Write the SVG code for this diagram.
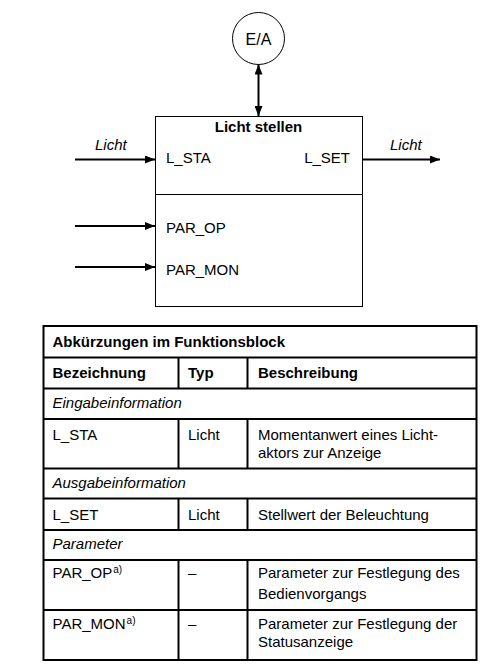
<svg xmlns="http://www.w3.org/2000/svg" width="483" height="665" viewBox="0 0 483 665">
<defs>
<style>
text{font-family:"Liberation Sans",Arial,sans-serif;font-size:15px;fill:#000}
.b{font-weight:bold}
.i{font-style:italic}
.sup{font-size:10px}
.tl{stroke:#000;stroke-width:2;fill:none}
.ar{stroke:#000;stroke-width:2;fill:none}
</style>
<marker id="ah" viewBox="0 0 10 8" refX="10" refY="4" markerWidth="10" markerHeight="8" markerUnits="userSpaceOnUse" orient="auto-start-reverse">
<path d="M0,0 L10,4 L0,8 Z" fill="#000"/>
</marker>
</defs>
<rect width="483" height="665" fill="#fff"/>
<g id="ea">
<circle cx="258.5" cy="38.5" r="26" fill="#fff" stroke="#000" stroke-width="1"/>
<text x="258.5" y="44.5" text-anchor="middle" style="font-size:16px">E/A</text>
</g>
<g id="block">
<rect x="155.5" y="116.5" width="207" height="190" fill="#fff" stroke="#000" stroke-width="1"/>
<line x1="155.5" y1="194.5" x2="362.5" y2="194.5" stroke="#000" stroke-width="1"/>
<text x="258.5" y="132" text-anchor="middle" class="b">Licht stellen</text>
<text x="166" y="163">L_STA</text>
<text x="350" y="163" text-anchor="end">L_SET</text>
<text x="166" y="233">PAR_OP</text>
<text x="166" y="275">PAR_MON</text>
</g>
<g id="connectors">
<line x1="258.5" y1="64.5" x2="258.5" y2="116" class="ar" marker-start="url(#ah)" marker-end="url(#ah)"/>
<line x1="75" y1="159.5" x2="155" y2="159.5" class="ar" marker-end="url(#ah)"/>
<line x1="362.5" y1="159.5" x2="440" y2="159.5" class="ar" marker-end="url(#ah)"/>
<line x1="75" y1="226" x2="155" y2="226" class="ar" marker-end="url(#ah)"/>
<line x1="75" y1="267" x2="155" y2="267" class="ar" marker-end="url(#ah)"/>
<text x="95" y="150" class="i">Licht</text>
<text x="390" y="150" class="i">Licht</text>
</g>
<g id="table">
<rect x="43.5" y="326" width="433" height="334" class="tl"/>
<line x1="43.5" y1="357.5" x2="476.5" y2="357.5" class="tl"/>
<line x1="43.5" y1="388.5" x2="476.5" y2="388.5" class="tl"/>
<line x1="43.5" y1="419" x2="476.5" y2="419" class="tl"/>
<line x1="43.5" y1="468.5" x2="476.5" y2="468.5" class="tl"/>
<line x1="43.5" y1="498.5" x2="476.5" y2="498.5" class="tl"/>
<line x1="43.5" y1="530" x2="476.5" y2="530" class="tl"/>
<line x1="43.5" y1="560" x2="476.5" y2="560" class="tl"/>
<line x1="43.5" y1="610" x2="476.5" y2="610" class="tl"/>
<line x1="178.5" y1="357.5" x2="178.5" y2="388.5" class="tl"/>
<line x1="247.5" y1="357.5" x2="247.5" y2="388.5" class="tl"/>
<line x1="178.5" y1="419" x2="178.5" y2="468.5" class="tl"/>
<line x1="247.5" y1="419" x2="247.5" y2="468.5" class="tl"/>
<line x1="178.5" y1="498.5" x2="178.5" y2="530" class="tl"/>
<line x1="247.5" y1="498.5" x2="247.5" y2="530" class="tl"/>
<line x1="178.5" y1="560" x2="178.5" y2="660" class="tl"/>
<line x1="247.5" y1="560" x2="247.5" y2="660" class="tl"/>
<text x="52.5" y="347" class="b">Abkürzungen im Funktionsblock</text>
<text x="52.5" y="377.5" class="b">Bezeichnung</text>
<text x="188" y="377.5" class="b">Typ</text>
<text x="258" y="377.5" class="b">Beschreibung</text>
<text x="52.5" y="407.5" class="i">Eingabeinformation</text>
<text x="52.5" y="439.5">L_STA</text>
<text x="188" y="439.5">Licht</text>
<text x="258" y="439.5">Momentanwert eines Licht-</text>
<text x="258" y="458">aktors zur Anzeige</text>
<text x="52.5" y="487.5" class="i">Ausgabeinformation</text>
<text x="52.5" y="519.5">L_SET</text>
<text x="188" y="519.5">Licht</text>
<text x="258" y="519.5">Stellwert der Beleuchtung</text>
<text x="52.5" y="548.5" class="i">Parameter</text>
<text x="52.5" y="577.5">PAR_OP<tspan class="sup" dx="1" dy="-5">a)</tspan></text>
<text x="188" y="577.5">–</text>
<text x="258" y="577.5">Parameter zur Festlegung des</text>
<text x="258" y="598.5">Bedienvorgangs</text>
<text x="52.5" y="628.5">PAR_MON<tspan class="sup" dx="1" dy="-5">a)</tspan></text>
<text x="188" y="628.5">–</text>
<text x="258" y="628.5">Parameter zur Festlegung der</text>
<text x="258" y="647">Statusanzeige</text>
</g>
</svg>
